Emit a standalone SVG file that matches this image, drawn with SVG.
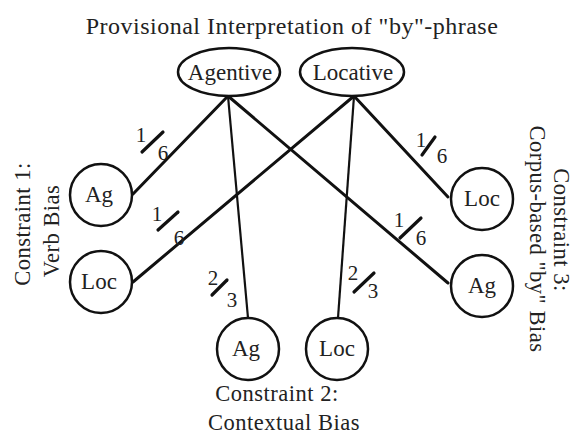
<svg xmlns="http://www.w3.org/2000/svg" width="575" height="437" viewBox="0 0 575 437">
<style>
text{font-family:"Liberation Serif","Times New Roman",serif;fill:#222}
.node{fill:#fff;stroke:#111;stroke-width:2.5}
.lbl{font-size:23px;text-anchor:middle}
.cap{font-size:22.5px;text-anchor:middle;letter-spacing:0.5px}
.e{stroke:#111;stroke-width:3;fill:none;stroke-linecap:round}
.ev{stroke:#111;stroke-width:2.2;fill:none}
.fr{font-size:21px;text-anchor:middle}
.sl{stroke:#111;stroke-width:3.2;stroke-linecap:round}
</style>
<rect width="575" height="437" fill="#fff"/>
<text x="292" y="34" class="cap" style="font-size:24px">Provisional Interpretation of "by"-phrase</text>
<g id="connectors">
<line class="e" x1="228" y1="96" x2="133" y2="194"/>
<line class="ev" x1="228" y1="96" x2="248" y2="318"/>
<line class="e" x1="228" y1="96" x2="448" y2="283"/>
<line class="e" x1="354" y1="96" x2="133" y2="282"/>
<line class="ev" x1="354" y1="96" x2="338" y2="318"/>
<line class="e" x1="354" y1="96" x2="448" y2="197"/>
</g>
<g id="weights">
<g><text x="141" y="142" class="fr">1</text><line class="sl" x1="142" y1="152" x2="163" y2="132"/><text x="163" y="160" class="fr">6</text></g>
<g><text x="157" y="221" class="fr">1</text><line class="sl" x1="158" y1="230" x2="178" y2="212"/><text x="179" y="245" class="fr">6</text></g>
<g><text x="213" y="285" class="fr">2</text><line class="sl" x1="212" y1="295" x2="227" y2="280"/><text x="232" y="307" class="fr">3</text></g>
<g><text x="421" y="147" class="fr">1</text><line class="sl" x1="422" y1="155" x2="435" y2="137"/><text x="442" y="163" class="fr">6</text></g>
<g><text x="399" y="227" class="fr">1</text><line class="sl" x1="400" y1="238" x2="421" y2="218"/><text x="421" y="245" class="fr">6</text></g>
<g><text x="353" y="280" class="fr">2</text><line class="sl" x1="354" y1="292" x2="374" y2="273"/><text x="373" y="298" class="fr">3</text></g>
</g>
<g id="agentive"><ellipse class="node" cx="229" cy="72" rx="51" ry="24"/><text x="230" y="80" class="lbl">Agentive</text></g>
<g id="locative"><ellipse class="node" cx="352" cy="72" rx="52" ry="24"/><text x="353" y="80" class="lbl">Locative</text></g>
<g id="ag1"><circle class="node" cx="101" cy="195" r="31"/><text x="99" y="202" class="lbl">Ag</text></g>
<g id="loc1"><circle class="node" cx="101" cy="282" r="31"/><text x="99" y="289" class="lbl">Loc</text></g>
<g id="ag2"><circle class="node" cx="248" cy="349" r="31"/><text x="246" y="356" class="lbl">Ag</text></g>
<g id="loc2"><circle class="node" cx="337" cy="349" r="31"/><text x="337" y="356" class="lbl">Loc</text></g>
<g id="loc3"><circle class="node" cx="482" cy="199" r="31"/><text x="482" y="206" class="lbl">Loc</text></g>
<g id="ag3"><circle class="node" cx="482" cy="286" r="31"/><text x="482" y="293" class="lbl">Ag</text></g>
<text class="cap" transform="translate(30,224) rotate(-90)">Constraint 1:</text>
<text class="cap" transform="translate(59,231) rotate(-90)">Verb Bias</text>
<text class="cap" transform="translate(554,230) rotate(90)">Constraint 3:</text>
<text class="cap" transform="translate(530,239) rotate(90)">Corpus-based "by" Bias</text>
<text x="277" y="401" class="cap">Constraint 2:</text>
<text x="284" y="430" class="cap">Contextual Bias</text>
</svg>
